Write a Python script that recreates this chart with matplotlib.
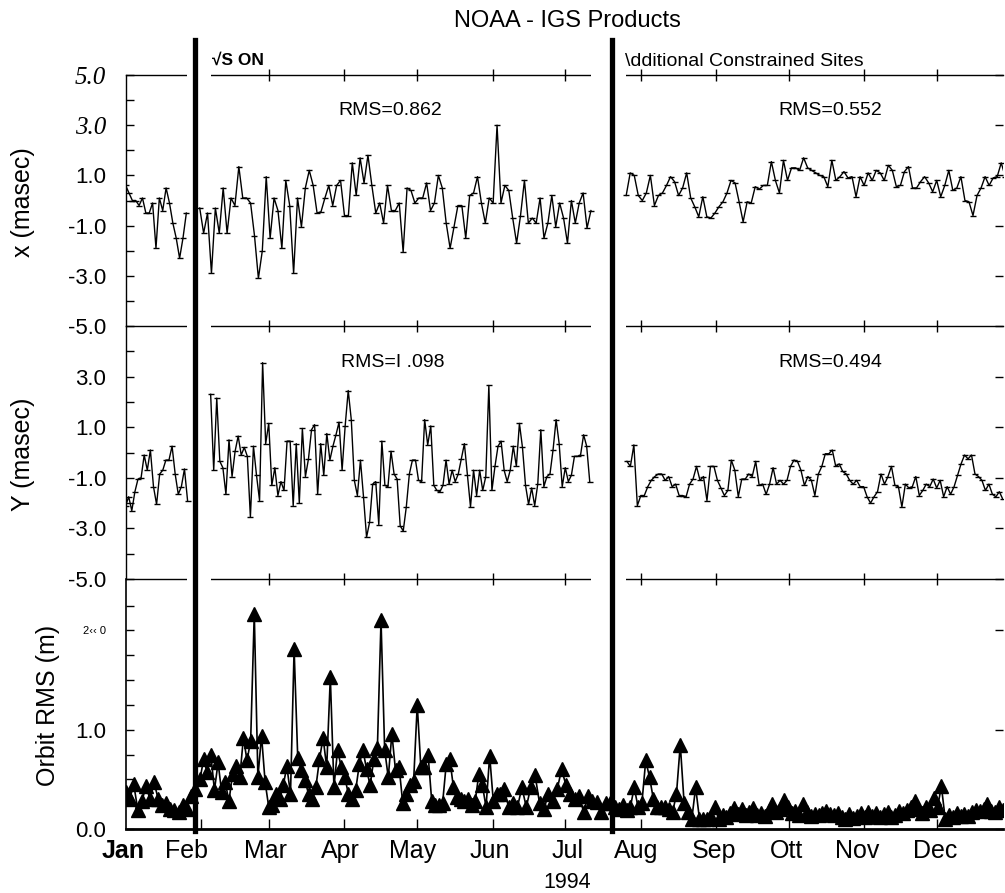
import numpy as np
import matplotlib
matplotlib.use("Agg")
import matplotlib.pyplot as plt
from matplotlib.lines import Line2D
from matplotlib.transforms import blended_transform_factory

plt.rcParams['font.family'] = ['Liberation Sans', 'DejaVu Sans']

# ---- data (day of year 1994) ----
month_days = [0, 31, 59, 90, 120, 151, 181, 212, 243, 273, 304, 334]
month_labels = ['Jan', 'Feb', 'Mar', 'Apr', 'May', 'Jun', 'Jul', 'Aug', 'Sep', 'Ott', 'Nov', 'Dec']
label_days = [-1, 25, 57.5, 88.5, 118, 150, 182, 210, 242, 272, 301, 333]

breaks = [28.7, 200.0]          # GPS ON / additional constrained sites
gaps = [(25.3, 35.2), (191.5, 206.0)]

x_seg1 = [0.6, 0.3, 0.0, 0.0, -0.2, 0.1, -0.5, -0.5, -0.1, -1.9, 0.1, -0.4, 0.5, -0.1,
          -0.9, -1.5, -2.3, -1.5, -0.5]
x_seg2 = [-0.3, -1.3, -0.5, -2.9, -0.3, -1.3, 0.5, -1.3, 0.1, -0.2, 1.35, 0.1, 0.1, -0.1,
          -1.4, -3.1, -2.0, 0.95, -1.5, 0.1, -0.4, -1.9, 0.8, -0.2, -2.9, 0.1, -1.05, 0.5,
          1.2, 0.6, -0.5, -0.45, 0.1, 0.6, -0.2, 0.6, 0.8, -0.6, -0.6, 1.5, 0.2, 1.7, 0.7,
          1.8, 0.6, -0.5, -0.1, -0.9, 0.6, -0.4, -0.4, -0.1, -2.05, 0.5, 0.4, -0.1, 0.1,
          0.1, 0.7, -0.4, -0.1, 1.0, 0.5, -0.9, -1.9, -1.05, -0.2, -0.2, -1.5, 0.2, 0.3,
          0.95, -0.1, -0.9, 0.1, -0.1, 3.0, -0.1, 0.6, 0.4, -0.7, -1.7, -0.6, 0.8, -0.9,
          -0.7, -0.9, 0.1, -1.5, -0.9, 0.2, -1.05, -0.1, -0.7, -1.7, 0.0, -0.9, -0.1, 0.3,
          -1.1, -0.4]
x_seg3 = [0.2, 1.1, 1.0, 0.2, 0.0, 0.3, 1.0, -0.2, 0.2, 0.3, 0.6, 0.95, 0.75, 0.2, 0.5,
          1.1, 0.1, -0.25, -0.65, 0.15, -0.65, -0.7, -0.5, -0.25, -0.05, 0.3, 0.8, 0.7,
          -0.05, -0.85, -0.05, -0.1, 0.55, 0.45, 0.6, 0.6, 1.55, 0.8, 0.3, 1.6, 0.8, 1.3,
          1.3, 1.2, 1.7, 1.3, 1.2, 1.1, 1.0, 0.95, 0.55, 1.6, 0.8, 0.95, 1.15, 0.9, 0.95,
          0.15, 0.95, 0.6, 1.1, 0.8, 1.2, 1.1, 0.8, 1.4, 1.2, 0.55, 0.6, 1.15, 1.35, 0.5,
          0.5, 0.75, 0.95, 0.7, 0.35, 0.8, 0.15, 0.6, 1.2, 0.4, 0.5, 0.95, 0.0, -0.05,
          -0.6, 0.2, 0.5, 0.95, 0.6, 0.9, 0.95, 1.5, 0.95]
x_spans = [(0, 25), (30.5, 191.5), (206, 362)]

y_seg1 = [-2.1, -1.75, -2.3, -1.55, -1.05, -1.0, -0.1, -0.7, 0.1, -1.35, -2.05, -0.85,
          -0.7, -0.3, -0.3, 0.25, -0.85, -1.65, -1.35, -0.65, -1.9]
y_seg2 = [2.3, -0.7, 2.15, -0.35, -0.6, -1.65, 0.5, -0.95, 0.05, 0.65, -0.1, 0.2, -0.15,
          -2.55, 0.25, -0.9, -1.9, 3.55, 0.35, 1.15, -1.3, -0.6, -1.7, -1.15, -1.5, 0.45,
          0.45, -2.1, 0.35, -2.0, 0.95, -0.95, -0.25, 0.9, 1.1, -1.65, 0.35, -0.9, 0.75,
          -0.3, 0.25, 0.7, 1.2, -0.7, 1.05, 2.45, 1.3, -1.1, -1.7, -0.3, -1.75,
          -3.35, -2.75, -1.25, -1.15, -2.85, 0.45, -1.3, -1.35, 0.05, -0.85, -1.05, -2.9,
          -3.1, -2.15, -0.85, -0.3, -0.3, -1.1, -1.15, 1.3, 0.3, 1.05, -1.3, -1.5, -1.55,
          -1.3, -0.3, -1.25, -0.7, -1.15, -0.85, -0.25, 0.35, -0.9, -2.15, -0.7, -1.7,
          -0.7, -1.5, -0.95, 2.65, -1.5, -0.55, 0.25, 0.45, -0.7, -1.15, -0.7, 0.25,
          -0.55, 1.15, 0.2, -1.3, -2.05, -1.4, -2.1, -1.25, 0.9, -1.35, -0.95, -0.85, 0.1,
          1.3, 0.35, -1.35, -0.6, -1.15, -0.9, -0.15, -0.15, -0.1, 0.7, 0.25, -1.15]
y_seg3 = [-0.35, -0.55, 0.3, -2.1, -1.7, -1.7, -1.35, -1.1, -0.95, -0.85, -0.85, -1.1,
          -0.95, -1.35, -1.25, -1.7, -1.7, -1.75, -1.25, -1.05, -0.55, -1.1, -0.95, -1.9,
          -0.55, -0.55, -1.1, -1.4, -1.7, -1.5, -0.3, -0.7, -1.75, -1.05, -1.05, -0.85,
          -0.95, -0.35, -1.3, -1.25, -1.65, -1.25, -0.6, -1.25, -1.1, -1.25, -1.1, -0.55,
          -0.3, -0.35, -0.7, -1.3, -0.95, -1.1, -1.7, -0.85, -0.55, -0.05, -0.05, 0.1,
          -0.55, -0.45, -0.75, -0.85, -1.1, -1.25, -1.1, -1.35, -1.35, -1.75, -2.0, -1.75,
          -1.55, -0.85, -1.25, -0.95, -0.55, -1.3, -1.35, -2.15, -1.25, -1.4, -1.35, -0.95,
          -1.7, -1.5, -1.25, -1.35, -1.05, -1.4, -1.1, -1.75, -1.35, -1.65, -1.35, -0.9,
          -0.45, -0.1, -0.25, -0.1, -0.85, -0.95, -1.1, -1.5, -1.25, -1.65, -1.75, -1.55,
          -1.85]
y_spans = [(0, 25.5), (35, 191), (206.3, 361)]

orb_a = [0.37, 0.30, 0.45, 0.19, 0.28, 0.43, 0.30, 0.47, 0.30, 0.24, 0.26, 0.20, 0.19,
         0.17, 0.24, 0.20, 0.33, 0.40]
orb_b1 = [0.50, 0.70, 0.57, 0.75, 0.39, 0.67, 0.37, 0.47, 0.28, 0.55, 0.63, 0.52, 0.92,
          0.69, 0.89, 2.17, 0.52, 0.94, 0.47, 0.22, 0.24, 0.35, 0.30, 0.44, 0.63, 0.35,
          1.81, 0.72, 0.59, 0.49, 0.35, 0.30, 0.42, 0.70, 0.92, 0.62, 1.53, 0.42, 0.80,
          0.62, 0.52, 0.35, 0.30, 0.39, 0.65, 0.80, 0.60, 0.44, 0.70, 0.82, 2.10, 0.80,
          0.52, 0.96, 0.59, 0.62, 0.26, 0.35, 0.44, 0.48, 1.25, 0.62, 0.62, 0.75, 0.28,
          0.24, 0.24, 0.26, 0.65, 0.70, 0.42, 0.32, 0.30, 0.28, 0.30, 0.24, 0.28, 0.55,
          0.44, 0.22, 0.74, 0.28, 0.35]
orb_b2 = [0.35, 0.40, 0.22, 0.26, 0.22, 0.42, 0.22, 0.42, 0.54, 0.26, 0.20, 0.35, 0.28,
          0.40, 0.60, 0.44, 0.35, 0.30, 0.33, 0.17, 0.33, 0.28, 0.27, 0.17, 0.26, 0.26]
orb_c = [0.22, 0.20, 0.24, 0.19, 0.22, 0.42, 0.22, 0.26, 0.69, 0.52, 0.30, 0.22, 0.22,
         0.22, 0.20, 0.17, 0.35, 0.85, 0.26, 0.17, 0.10, 0.42, 0.10, 0.10, 0.10,
         0.12, 0.22, 0.10, 0.14, 0.12, 0.16, 0.21, 0.15, 0.20, 0.14, 0.17, 0.21, 0.14,
         0.16, 0.13, 0.18, 0.25, 0.17, 0.20, 0.29, 0.22, 0.16, 0.18, 0.14, 0.25, 0.17,
         0.13, 0.15, 0.14, 0.16, 0.18, 0.15, 0.14, 0.16, 0.12, 0.10, 0.15, 0.11, 0.13,
         0.16, 0.12, 0.17, 0.13, 0.16, 0.12, 0.15, 0.17, 0.12, 0.14, 0.18, 0.16, 0.19,
         0.22, 0.28, 0.20, 0.16, 0.22, 0.19, 0.31, 0.22, 0.43, 0.10, 0.14, 0.12, 0.16,
         0.13, 0.15, 0.13, 0.17, 0.19, 0.18, 0.20, 0.25, 0.18, 0.17, 0.22, 0.19]
orb_spans = [(0, 28.5), (30.6, 152.8), (154, 199.4), (201.4, 361)]

rms_x = ['RMS=0.862', 'RMS=0.552']
rms_y = ['RMS=I .098', 'RMS=0.494']

# ---- figure ----
W, H = 1005, 893
fig = plt.figure(figsize=(W / 100, H / 100), dpi=100)
left = 125.6 / W
width = (1003 - 125.6) / W
ax1 = fig.add_axes([left, (H - 326) / H, width, 251 / H])
ax2 = fig.add_axes([left, (H - 579) / H, width, 253 / H])
ax3 = fig.add_axes([left, (H - 829) / H, width, 250 / H])
xmax = (1003 - 125.6) / 2.43

line_kw = dict(color='black', lw=1.0, marker='_', ms=4.5, mew=1.0)


def seg_days(span, vals):
    return np.linspace(span[0], span[1], len(vals))


for vals, span in zip([x_seg1, x_seg2, x_seg3], x_spans):
    ax1.plot(seg_days(span, vals), vals, **line_kw)
for vals, span in zip([y_seg1, y_seg2, y_seg3], y_spans):
    ax2.plot(seg_days(span, vals), vals, **line_kw)

orb_days = np.concatenate([seg_days(s, v) for s, v in
                           zip(orb_spans, [orb_a, orb_b1, orb_b2, orb_c])])
orb_vals = np.concatenate([orb_a, orb_b1, orb_b2, orb_c])
ax3.plot(orb_days, orb_vals, color='black', lw=1.2, marker='^', ms=10.5, mfc='black',
         mec='black')

tick_font = 16
for ax in (ax1, ax2):
    ax.set_xlim(0, xmax)
    ax.set_ylim(-5, 5)
    ax.set_xticks(month_days[2:])
    ax.set_xticklabels([])
    ax.tick_params(axis='x', which='major', direction='inout', length=9, width=1,
                   top=(ax is ax1), bottom=True)
    ax.set_yticks([-5, -3, -1, 1, 3, 5])
    ax.set_yticks([-4, -2, 0, 2, 4], minor=True)
    ax.tick_params(axis='y', which='major', direction='in', length=6, width=1,
                   right=True, labelsize=tick_font, pad=14)
    ax.tick_params(axis='y', which='minor', direction='in', length=6, width=1,
                   right=False)
    for s in ax.spines.values():
        s.set_linewidth(1.0)
    ax.spines['right'].set_visible(False)
    ax.patch.set_alpha(0)

ax1.set_yticklabels(['-5.0', '-3.0', '-1.0', '1.0', '3.0', '5.0'])
for lab in ax1.get_yticklabels()[-2:]:
    lab.set_family('Liberation Serif')
    lab.set_style('italic')
    lab.set_fontsize(18)
ax2.spines['top'].set_visible(False)
ax2.set_yticks([-5, -3, -1, 1, 3])
ax2.set_yticklabels(['-5.0', '-3.0', '-1.0', '1.0', '3.0'])

ax3.set_xlim(0, xmax)
ax3.set_ylim(0, (829 - 579) / 99.3)
ax3.set_xticks(month_days[1:])
ax3.set_xticklabels([])
ax3.tick_params(axis='x', direction='in', length=7, width=1)
ax3.set_yticks([0, 1, 2])
ax3.set_yticklabels(['0.0', '1.0', '2\u2039\u2039 0'])
ax3.set_yticks(np.arange(0.25, 2.5, 0.25), minor=True)
ax3.tick_params(axis='y', which='major', direction='in', length=6, width=1,
                right=True, labelsize=tick_font, pad=14)
ax3.tick_params(axis='y', which='minor', direction='in', length=6, width=1,
                right=False)
ax3.get_yticklabels()[2].set_fontsize(8)
ax3.spines['top'].set_visible(False)
ax3.spines['right'].set_visible(False)
ax3.spines['left'].set_linewidth(1.2)
ax3.spines['bottom'].set_linewidth(2.0)
ax3.patch.set_alpha(0)

# broken frame around the two event lines
for ax in (ax1, ax2):
    for g in gaps:
        for yy in (-5, 5):
            ax.plot(g, [yy, yy], color='white', lw=4, clip_on=False, zorder=5,
                    solid_capstyle='butt')

# month labels and year
xt = blended_transform_factory(ax3.transData, ax3.transAxes)
for d, m in zip(label_days, month_labels):
    ax3.text(d, -0.088, m, transform=xt, ha='center', va='center', fontsize=18,
             fontweight='bold' if m == 'Jan' else 'normal')
ax3.text(181.6, -0.215, '1994', transform=xt, ha='center', va='center', fontsize=15.5)

# event lines spanning the panels
bt = blended_transform_factory(ax3.transData, fig.transFigure)
for b in breaks:
    fig.add_artist(Line2D([b, b], [1 - 831 / H, 1 - 40 / H], transform=bt,
                          color='black', lw=3.8, zorder=10))
fig.text(35.5, 1 - 65 / H, '\u221aS ON', transform=bt, fontsize=12.5,
         fontweight='bold', va='baseline')
fig.text(205.5, 1 - 66 / H, '\\dditional Constrained Sites', transform=bt,
         fontsize=14, va='baseline')

ax1.text(109, 3.6, rms_x[0], ha='center', va='center', fontsize=14)
ax1.text(290, 3.6, rms_x[1], ha='center', va='center', fontsize=14)
ax2.text(110, 3.56, rms_y[0], ha='center', va='center', fontsize=14)
ax2.text(290, 3.56, rms_y[1], ha='center', va='center', fontsize=14)

fig.text(567 / W, 1 - 21 / H, 'NOAA - IGS Products', ha='center', va='center',
         fontsize=17)
fig.text(23 / W, 1 - 202 / H, 'x (masec)', rotation=90, ha='center', va='center',
         fontsize=18)
fig.text(23 / W, 1 - 454 / H, 'Y (masec)', rotation=90, ha='center', va='center',
         fontsize=18)
fig.text(48 / W, 1 - 705 / H, 'Orbit RMS (m)', rotation=90, ha='center', va='center',
         fontsize=18)

fig.savefig('out.png', dpi=100)
